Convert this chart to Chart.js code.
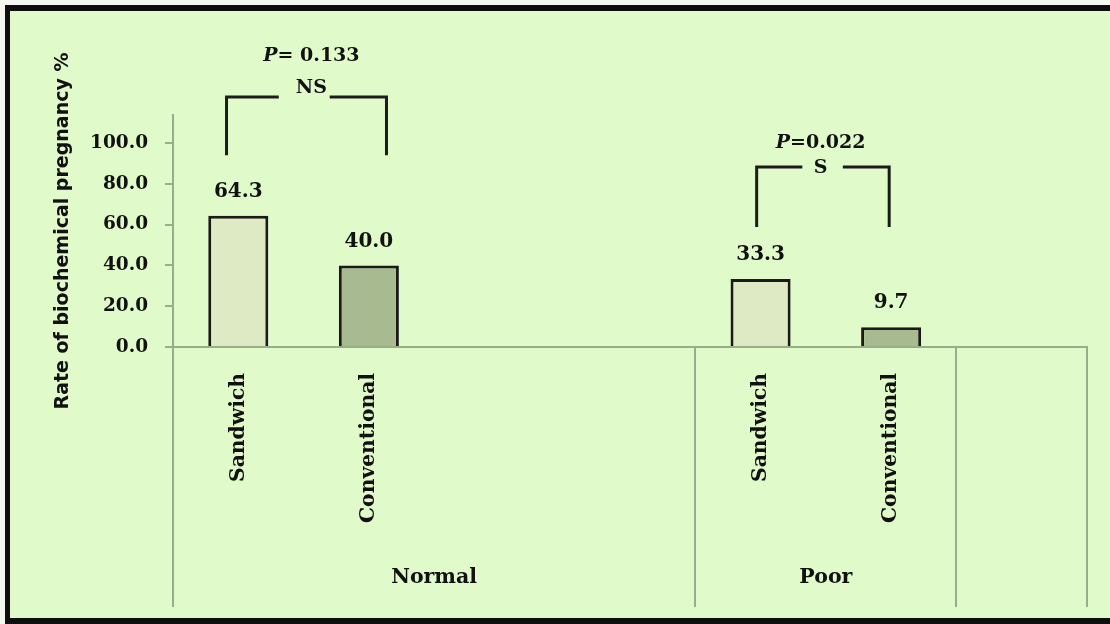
<!DOCTYPE html>
<html>
<head>
<meta charset="utf-8">
<script src="https://cdn.jsdelivr.net/npm/chart.js@4.4.1/dist/chart.umd.min.js"></script>
<style>
  html, body { margin: 0; padding: 0; background: #ffffff; }
  #wrap { width: 1110px; height: 624px; }
</style>
</head>
<body>
<div id="wrap"><canvas id="c" width="1110" height="624"></canvas></div>
<script>
// ---- data ----
const categories = ['Sandwich', 'Conventional', '', '', 'Sandwich', 'Conventional', ''];
const groupNames = ['Normal', 'Poor', ''];
const groupSpans = [4, 2, 1];
const rates = [64.3, 40.0, null, null, 33.3, 9.7, null];
const barKinds = ['S', 'C', '', '', 'S', 'C', ''];
const yTickValues = [0, 20, 40, 60, 80, 100];
const pLabels = ['= 0.133', '=0.022'];
const sigLabels = ['NS', 'S'];

// ---- styles ----
const BG = '#E1FACA';
const AXIS = '#98AE88';
const SAND = '#DDEAC4';
const CONV = '#A8BA90';
const INK = '#111111';
const SERIF = '"DejaVu Serif", "Liberation Serif", serif';
const SANS = '"DejaVu Sans", "Liberation Sans", sans-serif';

// bracket annotations in (category index, value) space
const brackets = [
  { xL: -0.09, xR: 1.135, yTop: 122.5, yBot: 94.0, gapL: 0.31, gapR: 0.70, pY: 142.5, sY: 127.0, xText: 0.56 },
  { xL: 3.97, xR: 4.985, yTop: 88.2, yBot: 58.8, gapL: 4.32, gapR: 4.63, pY: 100.0, sY: 87.6, xText: 4.46 }
];

const bgPlugin = {
  id: 'bg',
  beforeDraw(chart) {
    const ctx = chart.ctx;
    ctx.save();
    ctx.fillStyle = '#f4f8f0';
    ctx.fillRect(0, 0, chart.width, chart.height);
    ctx.fillStyle = BG;
    ctx.fillRect(6, 6, chart.width - 6, chart.height - 12);
    ctx.fillStyle = '#0e0e0e';
    ctx.fillRect(5, 5, chart.width - 5, 6);   // top
    ctx.fillRect(5, 5, 5, chart.height - 5);  // left
    ctx.fillRect(5, chart.height - 6, chart.width - 5, 6); // bottom
    ctx.restore();
  }
};

const decorPlugin = {
  id: 'decor',
  afterDraw(chart) {
    const ctx = chart.ctx;
    const xs = chart.scales.x, ys = chart.scales.y;
    const area = chart.chartArea;
    ctx.save();
    // group dividers & labels
    ctx.strokeStyle = AXIS;
    ctx.lineWidth = 2;
    let idx = 0;
    const bounds = [-0.5];
    groupSpans.forEach(s => { idx += s; bounds.push(idx - 0.5); });
    bounds.forEach(b => {
      const px = Math.round(xs.getPixelForValue(b));
      ctx.beginPath();
      ctx.moveTo(px, area.bottom);
      ctx.lineTo(px, 607);
      ctx.stroke();
    });
    ctx.fillStyle = INK;
    ctx.font = 'bold 20.5px ' + SERIF;
    ctx.textAlign = 'center';
    ctx.textBaseline = 'middle';
    groupNames.forEach((g, i) => {
      if (!g) return;
      const cx = (xs.getPixelForValue(bounds[i]) + xs.getPixelForValue(bounds[i + 1])) / 2;
      ctx.fillText(g, cx, 578);
    });
    // brackets
    ctx.strokeStyle = '#1c1c1c';
    ctx.lineWidth = 3;
    ctx.lineJoin = 'miter';
    brackets.forEach((b, i) => {
      const xL = xs.getPixelForValue(b.xL), xR = xs.getPixelForValue(b.xR);
      const yT = ys.getPixelForValue(b.yTop), yB = ys.getPixelForValue(b.yBot);
      const gL = xs.getPixelForValue(b.gapL), gR = xs.getPixelForValue(b.gapR);
      ctx.beginPath();
      ctx.moveTo(xL, yB); ctx.lineTo(xL, yT); ctx.lineTo(gL, yT);
      ctx.moveTo(gR, yT); ctx.lineTo(xR, yT); ctx.lineTo(xR, yB);
      ctx.stroke();
      const cx = xs.getPixelForValue(b.xText);
      // P label
      ctx.textBaseline = 'middle';
      ctx.font = 'italic bold 19px ' + SERIF;
      const wP = ctx.measureText('P').width;
      ctx.font = 'bold 19px ' + SERIF;
      const wR = ctx.measureText(pLabels[i]).width;
      const start = cx - (wP + wR) / 2;
      ctx.textAlign = 'left';
      ctx.font = 'italic bold 19px ' + SERIF;
      ctx.fillText('P', start, ys.getPixelForValue(b.pY));
      ctx.font = 'bold 19px ' + SERIF;
      ctx.fillText(pLabels[i], start + wP, ys.getPixelForValue(b.pY));
      ctx.textAlign = 'center';
      ctx.fillText(sigLabels[i], cx, ys.getPixelForValue(b.sY));
    });
    ctx.restore();
  }
};

const valueLabelPlugin = {
  id: 'vals',
  afterDatasetsDraw(chart) {
    const ctx = chart.ctx;
    const meta = chart.getDatasetMeta(0);
    ctx.save();
    ctx.fillStyle = INK;
    ctx.font = 'bold 20px ' + SERIF;
    ctx.textAlign = 'center';
    ctx.textBaseline = 'middle';
    meta.data.forEach((bar, i) => {
      const v = rates[i];
      if (v === null) return;
      ctx.fillText(v.toFixed(1), bar.x, bar.y - 24);
    });
    ctx.restore();
  }
};

new Chart(document.getElementById('c'), {
  type: 'bar',
  data: {
    labels: categories,
    datasets: [{
      data: rates,
      backgroundColor: barKinds.map(k => k === 'S' ? SAND : CONV),
      borderColor: '#1a1a1a',
      borderWidth: 3,
      borderSkipped: 'start',
      categoryPercentage: 1.0,
      barPercentage: 0.46
    }]
  },
  options: {
    responsive: false,
    devicePixelRatio: 1,
    animation: false,
    layout: { padding: { top: 115, right: 23, bottom: 0, left: 0 } },
    plugins: { legend: { display: false }, tooltip: { enabled: false } },
    scales: {
      x: {
        grid: { display: false, drawTicks: false },
        border: { display: true, color: AXIS, width: 2, z: 1 },
        ticks: {
          autoSkip: false,
          minRotation: 90,
          maxRotation: 90,
          padding: 26,
          color: INK,
          font: { family: SERIF, weight: 'bold', size: 20.3 }
        },
        afterFit(scale) { scale.height = 277; }
      },
      y: {
        min: 0,
        max: 113.7,
        afterBuildTicks(scale) { scale.ticks = yTickValues.map(v => ({ value: v })); },
        grid: { display: true, drawOnChartArea: false, drawTicks: true, tickLength: 8, color: AXIS, lineWidth: 2 },
        border: { display: true, color: AXIS, width: 2 },
        ticks: {
          padding: 17,
          color: INK,
          font: { family: SERIF, weight: 'bold', size: 18.5 },
          callback: v => Number(v).toFixed(1)
        },
        title: {
          display: true,
          text: 'Rate of biochemical pregnancy %',
          color: INK,
          font: { family: SANS, weight: 'bold', size: 19 },
          padding: { top: 52, bottom: 0 }
        },
        afterFit(scale) { scale.width = 173; }
      }
    }
  },
  plugins: [bgPlugin, valueLabelPlugin, decorPlugin]
});
</script>
</body>
</html>
